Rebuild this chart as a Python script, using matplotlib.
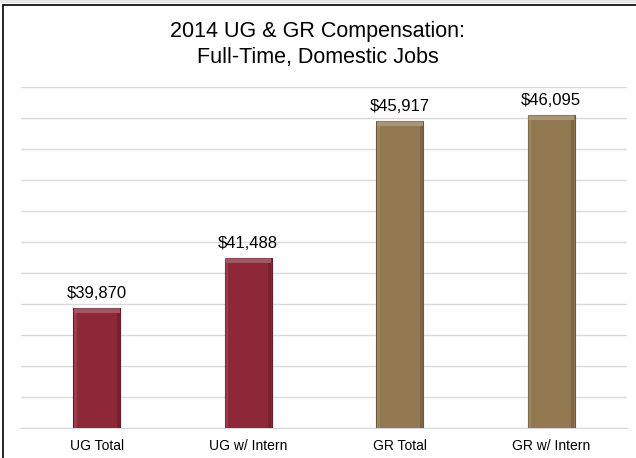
import matplotlib.pyplot as plt
from matplotlib.patches import Rectangle

plt.rcParams['font.family'] = ['Liberation Sans', 'DejaVu Sans']

categories = ['UG Total', 'UG w/ Intern', 'GR Total', 'GR w/ Intern']
salaries = [39870, 41488, 45917, 46095]
bar_colors = ['#8E2737', '#8E2737', '#927851', '#927851']
edge_colors = ['#6A1A26', '#6A1A26', '#6E5A3A', '#6E5A3A']

fig = plt.figure(figsize=(6.36, 4.58), dpi=100)
ax = fig.add_axes([21 / 636, 1 - 428 / 458, 606 / 636, 341 / 458])

x = range(len(categories))
w = 0.31
bars = ax.bar(x, salaries, width=w, color=bar_colors, edgecolor=edge_colors,
              linewidth=0.8, zorder=3)

# bevel look: light top, light left side, dark right side
for b in bars:
    cx = b.get_x() + b.get_width() / 2
    top = b.get_height()
    ax.bar(cx, 170, bottom=top - 170, width=w * 0.97, color='white', alpha=0.22,
           linewidth=0, zorder=4)
    ax.bar(b.get_x() + w * 0.04, top - 36000 - 170, bottom=36000, width=w * 0.06,
           color='white', alpha=0.10, linewidth=0, zorder=4)
    ax.bar(b.get_x() + w * 0.96, top - 36000 - 170, bottom=36000, width=w * 0.06,
           color='black', alpha=0.15, linewidth=0, zorder=4)

for b, v in zip(bars, salaries):
    ax.annotate(f'${v:,}', (b.get_x() + b.get_width() / 2, v),
                xytext=(0, 5), textcoords='offset points',
                ha='center', va='bottom', fontsize=12)

ax.set_ylim(36000, 47000)
ax.set_xlim(-0.5, 3.5)
ax.set_yticks(range(36000, 47001, 1000))
ax.yaxis.grid(True, color='#D9D9D9', linewidth=1)
ax.set_axisbelow(True)
ax.tick_params(axis='y', left=False, labelleft=False)
ax.tick_params(axis='x', length=0, pad=8, labelsize=10)
ax.set_xticks(list(x))
ax.set_xticklabels(categories)
for s in ['top', 'right', 'left']:
    ax.spines[s].set_visible(False)
ax.spines['bottom'].set_color('#D9D9D9')

fig.text(0.5, 1 - 32 / 458, '2014 UG & GR Compensation:', ha='center', va='center', fontsize=15.5)
fig.text(0.5, 1 - 57 / 458, 'Full-Time, Domestic Jobs', ha='center', va='center', fontsize=15.5)

# chart border
fig.add_artist(Rectangle((3 / 636, -0.1), 1.1, 1.1 - 5 / 458, transform=fig.transFigure,
                         fill=False, edgecolor='black', linewidth=1.2))
fig.add_artist(Rectangle((0, 1 - 3 / 458), 1, 3 / 458, transform=fig.transFigure,
                         color='#E6E6E6', linewidth=0))

fig.savefig('out.png', dpi=100)
